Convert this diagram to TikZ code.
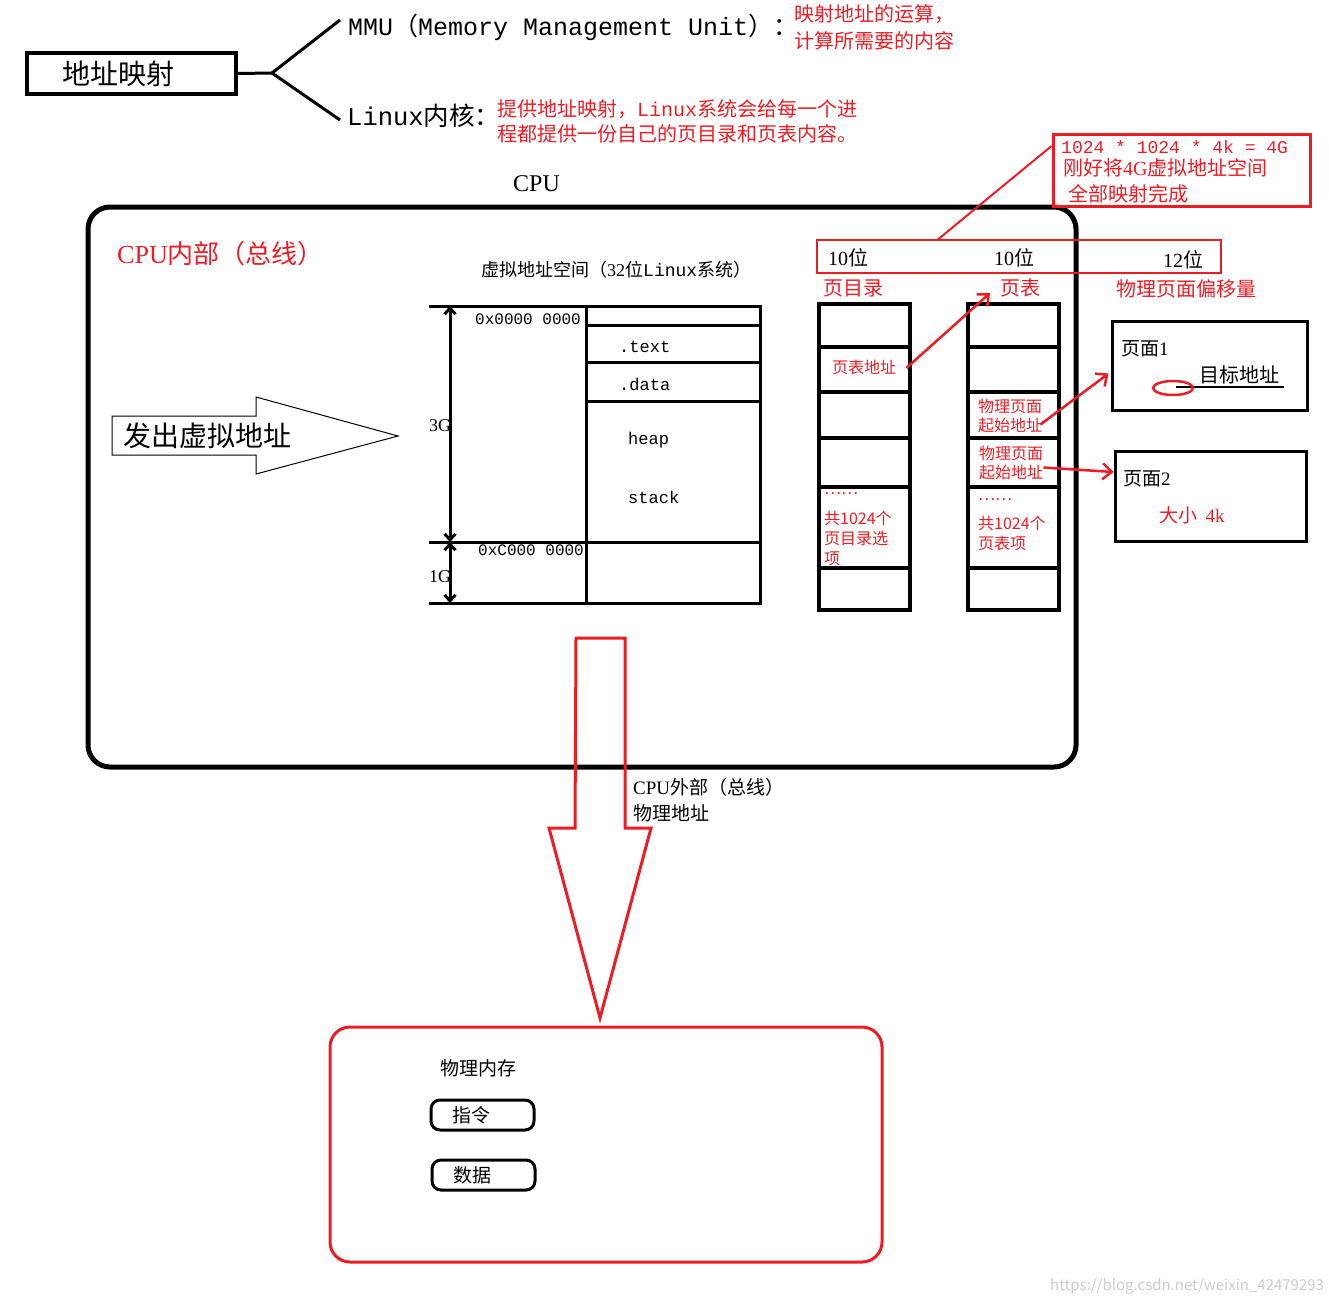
\documentclass[tikz,border=0pt]{standalone}
\usepackage{fontspec}
\setmainfont{Noto Sans CJK SC}
\setmonofont{Liberation Mono}
\newfontfamily\serifen{Liberation Serif}
\usetikzlibrary{arrows.meta,positioning,calc}
\definecolor{PaintRed}{RGB}{237,28,36}
\newcommand{\pxfont}[2]{\fontsize{#1}{#2}\selectfont}
\tikzset{
  lbl/.style={inner sep=0pt,anchor=west},
  redlbl/.style={lbl,text=PaintRed},
  blackbox/.style={draw,line width=3pt,inner sep=0pt},
  vacell/.style={draw,line width=3pt,minimum width=174pt,inner sep=0pt,outer sep=0pt,anchor=north west},
  cell/.style={draw,line width=3.5pt,minimum width=91pt,inner sep=0pt,outer sep=0pt,anchor=north west},
  membox/.style={draw,line width=3pt,rounded corners=9pt,minimum height=30pt,
    text width=61pt,inner xsep=21pt,inner ysep=0pt,align=left,font={\pxfont{19}{19}}},
  redarrow/.style={PaintRed,line width=2.5pt,-{Straight Barb[length=9pt,width=16pt]}},
  gauge/.style={line width=3pt,{Straight Barb[length=6pt,width=11pt]}-{Straight Barb[length=6pt,width=11pt]}}
}
\begin{document}
\begin{tikzpicture}[x=1pt,y=-1pt]
  \useasboundingbox (0,0) rectangle (1329,1304);
  % title and its two branches
  \node[blackbox,line width=4pt,minimum width=209pt,minimum height=41pt,text width=139pt,
    inner xsep=35pt,align=left,font={\pxfont{28}{28}}] (map) at (131.5,73.5) {地址映射};
  \coordinate (fork) at (272,73);
  \node[lbl,font={\pxfont{25}{25}}] (mmu) at (348,27) {\texttt{MMU}（\texttt{Memory Management Unit}）：};
  \node[redlbl,font={\pxfont{20}{27}},align=left] (mmunote) at (794,27.5) {映射地址的运算，\\计算所需要的内容};
  \node[lbl,font={\pxfont{25.5}{25.5}}] (kernel) at (347,116) {\texttt{Linux}内核：};
  \node[redlbl,font={\pxfont{20}{25}},align=left] (kernelnote) at (497,121.5)
    {提供地址映射，\texttt{Linux}系统会给每一个进\\程都提供一份自己的页目录和页表内容。};
  \draw[line width=3pt] (map.east) -- (fork);
  \draw[line width=3pt] (fork) -- ($(mmu.west)+(-8,-7)$);
  \draw[line width=3pt] (fork) -- ($(kernel.west)+(-7,4)$);

  % CPU
  \node[lbl,font={\pxfont{24}{24}}] (cpulbl) at (513,184) {\serifen CPU};
  \node[draw,line width=5pt,rounded corners=22pt,minimum width=988pt,minimum height=560pt] (cpu) at (582,487) {};
  \node[redlbl,font={\pxfont{26}{26}}] (inside) at (117,254) {{\serifen CPU}内部（总线）};

  % virtual address issued
  \draw[line width=1pt] (112,416) -- (256,416) -- (256,397) -- (398,436) -- (256,474)
    -- (256,455) -- (112,455) -- cycle;
  \node[lbl,font={\pxfont{28}{28}}] (issue) at (123,436) {发出虚拟地址};

  % virtual address space
  \node[lbl,font={\pxfont{18}{18}}] (vastitle) at (481,270) {虚拟地址空间（{\serifen 32}位\texttt{Linux}系统）};
  \node[lbl,font={\ttfamily\pxfont{16}{16}}] (addrlow) at (475,319) {0x0000 0000};
  \node[lbl,font={\ttfamily\pxfont{16}{16}}] (addrhigh) at (478,550) {0xC000 0000};
  \foreach \n/\ya/\yb in {top/306/325,text/325/362,data/362/401,heap/401/542,kern/542/603}
    \node[vacell,minimum height={\yb-\ya}] (va\n) at (586,\ya) {};
  \draw[line width=3pt] (429,306) -- (vatop.north west);
  \draw[line width=3pt] (429,542) -- (vakern.north west);
  \draw[line width=3pt] (429,603) -- (vakern.south west);
  \draw[gauge] (450,306) -- (450,542);
  \draw[gauge] (450,542) -- (450,603);
  \node[lbl,font={\serifen\pxfont{18}{18}}] (gthree) at (429,426) {3G};
  \node[lbl,font={\serifen\pxfont{18}{18}}] (gone) at (429,577) {1G};
  \node[lbl,font={\ttfamily\pxfont{17}{17}}] at (619,347) {.text};
  \node[lbl,font={\ttfamily\pxfont{17}{17}}] at (619,384) {.data};
  \node[lbl,font={\ttfamily\pxfont{17}{17}}] at (628,440) {heap};
  \node[lbl,font={\ttfamily\pxfont{17}{17}}] at (628,497) {stack};

  % bit fields of the address
  \node[draw=PaintRed,line width=1.2pt,minimum width=404pt,minimum height=33pt,inner sep=0pt] (bits) at (1019,256.5) {};
  \node[lbl,font={\pxfont{20}{20}}] at (828,258) {{\serifen 10}位};
  \node[lbl,font={\pxfont{20}{20}}] at (994,258) {{\serifen 10}位};
  \node[lbl,font={\pxfont{20}{20}}] at (1163,260) {{\serifen 12}位};
  \node[redlbl,font={\pxfont{20}{20}}] (pdlbl) at (823,288) {页目录};
  \node[redlbl,font={\pxfont{20}{20}}] (ptlbl) at (1000,288) {页表};
  \node[redlbl,font={\pxfont{20}{20}}] (offlbl) at (1116,289) {物理页面偏移量};
  \node[draw=PaintRed,line width=3pt,minimum width=257pt,minimum height=72pt,inner sep=0pt] (note) at (1181.5,170) {};
  \node[redlbl,font={\ttfamily\pxfont{18}{18}}] at (1061,147) {1024 * 1024 * 4k = 4G};
  \node[redlbl,font={\pxfont{20}{20}}] at (1063,168) {刚好将{\serifen 4G}虚拟地址空间};
  \node[redlbl,font={\pxfont{20}{20}}] at (1068,194) {全部映射完成};
  \draw[PaintRed,line width=2pt] ($(bits.north west)!0.3!(bits.north east)$)
    -- ($(note.north west)!0.18!(note.south west)$);

  % page directory and page table
  \foreach \i/\ya/\yb in {1/304/347,2/347/392,3/392/438,4/438/487,5/487/568,6/568/610} {
    \node[cell,minimum height={\yb-\ya}] (pd\i) at (819,\ya) {};
    \node[cell,minimum height={\yb-\ya}] (pt\i) at (968,\ya) {};
  }
  \node[redlbl,font={\pxfont{16}{16}}] (ptaddr) at (832,367) {页表地址};
  \node[redlbl,font={\pxfont{16}{16}}] at (824,494) {……};
  \node[redlbl,font={\pxfont{16}{20}},align=left] (pdmore) at (824,538) {共1024个\\页目录选\\项};
  \node[redlbl,font={\pxfont{16}{19}},align=left] (pta1) at (978,415.5) {物理页面\\起始地址};
  \node[redlbl,font={\pxfont{16}{19}},align=left] (pta2) at (979,462.5) {物理页面\\起始地址};
  \node[redlbl,font={\pxfont{16}{16}}] at (978,500) {……};
  \node[redlbl,font={\pxfont{16}{20}},align=left] (ptmore) at (978,533) {共1024个\\页表项};

  % physical pages
  \node[blackbox,minimum width=195pt,minimum height=89pt] (page1) at (1209.5,365.5) {};
  \node[lbl,font={\pxfont{19}{19}}] at (1121,349) {页面{\serifen 1}};
  \node[lbl,font={\pxfont{20}{20}}] (target) at (1199,375) {目标地址};
  \draw[line width=1.5pt] (1176,387) -- (1284,387);
  \draw[PaintRed,line width=2.5pt] (1173,388) ellipse [x radius=20pt,y radius=7pt];
  \node[blackbox,minimum width=191pt,minimum height=90pt] (page2) at (1210.5,496) {};
  \node[lbl,font={\pxfont{19}{19}}] at (1123,479) {页面{\serifen 2}};
  \node[redlbl,font={\pxfont{19}{19}}] at (1159,515) {大小\ \ {\serifen 4k}};

  \draw[redarrow] ($(ptaddr.east)+(10,1)$) -- ($(ptlbl.west)+(-10,5)$);
  \draw[redarrow] ($(pta1.east)+(-2,9)$) -- ($(page1.west)+(-2,8)$);
  \draw[redarrow] ($(pta2.east)+(0,5)$) -- ($(page2.west)+(0,-24)$);

  % physical address out of the CPU
  \draw[PaintRed,line width=3pt] (576,638) -- (625,638) -- (625,828) -- (651,828) -- (600,1018)
    -- (549,828) -- (575,828) -- cycle;
  \node[lbl,font={\pxfont{19}{26}},align=left] (outside) at (633,800) {{\serifen CPU}外部（总线）\\物理地址};

  % physical memory
  \node[draw=PaintRed,line width=3pt,rounded corners=20pt,minimum width=552pt,minimum height=235pt] (mem) at (606,1144.5) {};
  \node[lbl,font={\pxfont{19}{19}}] (memlbl) at (440,1068) {物理内存};
  \node[membox] (instr) at (482.5,1115) {指令};
  \node[membox] (datum) at (483.5,1175) {数据};

  \node[lbl,font={\pxfont{15}{15}},text=gray!40] at (1050,1286) {https://blog.csdn.net/weixin\_42479293};
\end{tikzpicture}
\end{document}
